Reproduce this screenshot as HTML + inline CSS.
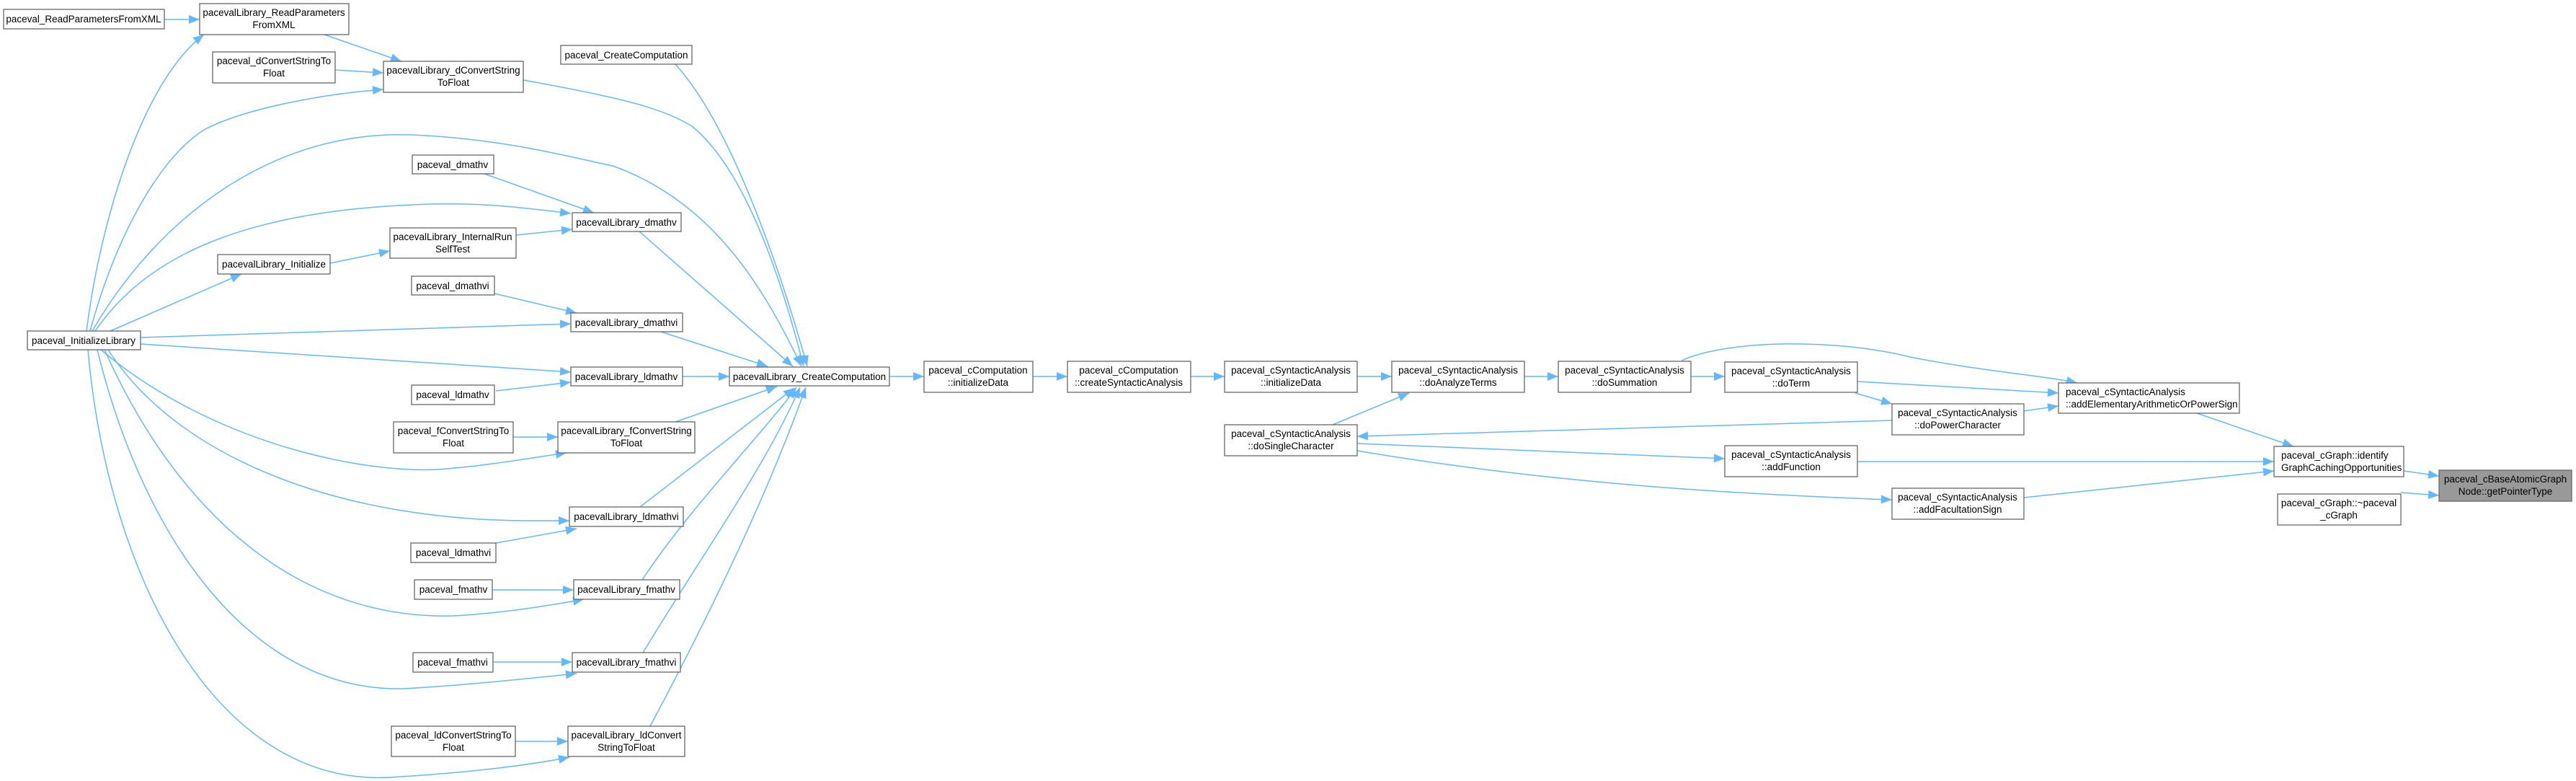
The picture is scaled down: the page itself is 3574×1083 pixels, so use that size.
<!DOCTYPE html>
<html><head><meta charset="utf-8"><style>
html,body{margin:0;padding:0;background:#fff;}
svg{display:block;}
text{font-family:"Liberation Sans",Arial,sans-serif;font-size:13.5px;fill:#000;}
.n{fill:#fff;stroke:#666;stroke-width:1.3;}
.g{fill:#999;stroke:#666;stroke-width:1.3;}
.e{fill:none;stroke:#63b8ff;stroke-width:1.5;}
</style></head><body>
<svg width="3574" height="1083" viewBox="0 0 3574 1083" xmlns="http://www.w3.org/2000/svg">
<defs><marker id="a" markerUnits="userSpaceOnUse" markerWidth="16" markerHeight="12" refX="15" refY="6" orient="auto"><path d="M0,0 L15,6 L0,12 z" fill="#63b8ff"/></marker></defs>
<g class="e" marker-end="url(#a)">
<path d="M228,27 L277,27"/>
<path d="M450,48 L557,85"/>
<path d="M465,97 L532,101"/>
<path d="M120,459 C140,300 200,110 283,48"/>
<path d="M125,459 C160,330 220,220 283,180 C340,150 450,130 532,124"/>
<path d="M128,459 C220,300 380,180 570,187 C700,192 800,220 850,230 C990,280 1060,400 1112,508"/>
<path d="M132,459 C200,360 330,290 600,283 C680,281 740,290 792,296"/>
<path d="M716,326 L794,318"/>
<path d="M458,365 L541,348"/>
<path d="M153,459 L335,380"/>
<path d="M672,241 L824,295"/>
<path d="M726,111 C860,135 920,150 960,175 C1040,240 1090,410 1115,508"/>
<path d="M937,89 C1020,180 1090,400 1120,508"/>
<path d="M887,321 L1100,508"/>
<path d="M686,407 L800,434"/>
<path d="M195,468 L792,449"/>
<path d="M917,460 L1065,508"/>
<path d="M195,477 L792,516"/>
<path d="M947,522 L1012,522"/>
<path d="M688,542 L792,530"/>
<path d="M712,606 L774,606"/>
<path d="M140,485 C300,620 520,660 620,650 C680,645 730,636 786,628"/>
<path d="M937,585 L1078,536"/>
<path d="M150,485 C250,640 480,722 735,722 L790,722"/>
<path d="M688,753 L800,733"/>
<path d="M888,703 L1102,538"/>
<path d="M683,818 L796,818"/>
<path d="M145,485 C250,720 420,860 630,854 C700,850 760,840 810,831"/>
<path d="M891,804 C960,700 1060,600 1105,537"/>
<path d="M684,918 L794,918"/>
<path d="M135,485 C200,750 350,960 560,955 C650,950 740,940 800,934"/>
<path d="M892,905 C980,760 1060,650 1110,537"/>
<path d="M715,1028 L788,1028"/>
<path d="M122,485 C150,800 300,1090 540,1078 C650,1072 740,1060 790,1050"/>
<path d="M902,1007 C970,880 1060,700 1118,537"/>
<path d="M1234,522 L1282,522"/>
<path d="M1433,522 L1481,522"/>
<path d="M1652,522 L1699,522"/>
<path d="M1883,522 L1931,522"/>
<path d="M1849,589 L1955,545"/>
<path d="M2115,522 L2162,522"/>
<path d="M2346,522 L2393,522"/>
<path d="M2333,500 C2400,470 2550,470 2650,495 C2750,515 2830,520 2882,531"/>
<path d="M2577,529 L2856,545"/>
<path d="M2574,545 L2625,560"/>
<path d="M2808,570 L2856,563"/>
<path d="M2625,583 L1883,605"/>
<path d="M1883,615 L2393,636"/>
<path d="M1883,625 C2150,670 2400,685 2625,693"/>
<path d="M2577,640 L3155,640"/>
<path d="M2808,690 L3155,653"/>
<path d="M3048,573 L3182,619"/>
<path d="M3335,653 L3384,660"/>
<path d="M3331,683 L3384,687"/>
</g>
<g>
<rect class="n" x="5" y="13" width="223" height="27"/><text x="116" y="31" text-anchor="middle">paceval_ReadParametersFromXML</text>
<rect class="n" x="277" y="5" width="207" height="43"/><text x="380" y="22" text-anchor="middle">pacevalLibrary_ReadParameters</text><text x="380" y="39" text-anchor="middle">FromXML</text>
<rect class="n" x="295" y="72" width="170" height="43"/><text x="380" y="89" text-anchor="middle">paceval_dConvertStringTo</text><text x="380" y="106" text-anchor="middle">Float</text>
<rect class="n" x="532" y="85" width="194" height="43"/><text x="629" y="102" text-anchor="middle">pacevalLibrary_dConvertString</text><text x="629" y="119" text-anchor="middle">ToFloat</text>
<rect class="n" x="778" y="63" width="182" height="26"/><text x="869" y="81" text-anchor="middle">paceval_CreateComputation</text>
<rect class="n" x="572" y="215" width="113" height="26"/><text x="628" y="233" text-anchor="middle">paceval_dmathv</text>
<rect class="n" x="794" y="295" width="151" height="26"/><text x="869" y="313" text-anchor="middle">pacevalLibrary_dmathv</text>
<rect class="n" x="541" y="316" width="175" height="42"/><text x="628" y="333" text-anchor="middle">pacevalLibrary_InternalRun</text><text x="628" y="350" text-anchor="middle">SelfTest</text>
<rect class="n" x="302" y="353" width="156" height="27"/><text x="380" y="371" text-anchor="middle">pacevalLibrary_Initialize</text>
<rect class="n" x="571" y="383" width="115" height="26"/><text x="628" y="401" text-anchor="middle">paceval_dmathvi</text>
<rect class="n" x="792" y="434" width="155" height="26"/><text x="869" y="452" text-anchor="middle">pacevalLibrary_dmathvi</text>
<rect class="n" x="38" y="459" width="157" height="26"/><text x="116" y="477" text-anchor="middle">paceval_InitializeLibrary</text>
<rect class="n" x="792" y="509" width="155" height="26"/><text x="869" y="527" text-anchor="middle">pacevalLibrary_ldmathv</text>
<rect class="n" x="1012" y="509" width="222" height="26"/><text x="1123" y="527" text-anchor="middle">pacevalLibrary_CreateComputation</text>
<rect class="n" x="571" y="534" width="115" height="27"/><text x="628" y="552" text-anchor="middle">paceval_ldmathv</text>
<rect class="n" x="546" y="585" width="166" height="43"/><text x="629" y="602" text-anchor="middle">paceval_fConvertStringTo</text><text x="629" y="619" text-anchor="middle">Float</text>
<rect class="n" x="774" y="585" width="190" height="43"/><text x="869" y="602" text-anchor="middle">pacevalLibrary_fConvertString</text><text x="869" y="619" text-anchor="middle">ToFloat</text>
<rect class="n" x="790" y="703" width="158" height="27"/><text x="869" y="721" text-anchor="middle">pacevalLibrary_ldmathvi</text>
<rect class="n" x="570" y="753" width="118" height="27"/><text x="629" y="771" text-anchor="middle">paceval_ldmathvi</text>
<rect class="n" x="575" y="804" width="108" height="27"/><text x="629" y="822" text-anchor="middle">paceval_fmathv</text>
<rect class="n" x="796" y="804" width="147" height="27"/><text x="869" y="822" text-anchor="middle">pacevalLibrary_fmathv</text>
<rect class="n" x="573" y="905" width="111" height="27"/><text x="628" y="923" text-anchor="middle">paceval_fmathvi</text>
<rect class="n" x="794" y="905" width="150" height="27"/><text x="869" y="923" text-anchor="middle">pacevalLibrary_fmathvi</text>
<rect class="n" x="543" y="1007" width="172" height="42"/><text x="629" y="1024" text-anchor="middle">paceval_ldConvertStringTo</text><text x="629" y="1041" text-anchor="middle">Float</text>
<rect class="n" x="788" y="1007" width="162" height="42"/><text x="869" y="1024" text-anchor="middle">pacevalLibrary_ldConvert</text><text x="869" y="1041" text-anchor="middle">StringToFloat</text>
<rect class="n" x="1282" y="501" width="151" height="43"/><text x="1357" y="518" text-anchor="middle">paceval_cComputation</text><text x="1357" y="535" text-anchor="middle">::initializeData</text>
<rect class="n" x="1481" y="501" width="171" height="43"/><text x="1566" y="518" text-anchor="middle">paceval_cComputation</text><text x="1566" y="535" text-anchor="middle">::createSyntacticAnalysis</text>
<rect class="n" x="1699" y="501" width="184" height="43"/><text x="1791" y="518" text-anchor="middle">paceval_cSyntacticAnalysis</text><text x="1791" y="535" text-anchor="middle">::initializeData</text>
<rect class="n" x="1931" y="501" width="184" height="43"/><text x="2023" y="518" text-anchor="middle">paceval_cSyntacticAnalysis</text><text x="2023" y="535" text-anchor="middle">::doAnalyzeTerms</text>
<rect class="n" x="2162" y="501" width="184" height="43"/><text x="2254" y="518" text-anchor="middle">paceval_cSyntacticAnalysis</text><text x="2254" y="535" text-anchor="middle">::doSummation</text>
<rect class="n" x="1699" y="589" width="184" height="43"/><text x="1791" y="606" text-anchor="middle">paceval_cSyntacticAnalysis</text><text x="1791" y="623" text-anchor="middle">::doSingleCharacter</text>
<rect class="n" x="2393" y="502" width="184" height="42"/><text x="2485" y="519" text-anchor="middle">paceval_cSyntacticAnalysis</text><text x="2485" y="536" text-anchor="middle">::doTerm</text>
<rect class="n" x="2856" y="531" width="251" height="42"/><text x="2866" y="548">paceval_cSyntacticAnalysis</text><text x="2866" y="565">::addElementaryArithmeticOrPowerSign</text>
<rect class="n" x="2625" y="560" width="183" height="43"/><text x="2716" y="577" text-anchor="middle">paceval_cSyntacticAnalysis</text><text x="2716" y="594" text-anchor="middle">::doPowerCharacter</text>
<rect class="n" x="2393" y="618" width="184" height="43"/><text x="2485" y="635" text-anchor="middle">paceval_cSyntacticAnalysis</text><text x="2485" y="652" text-anchor="middle">::addFunction</text>
<rect class="n" x="2625" y="677" width="183" height="43"/><text x="2716" y="694" text-anchor="middle">paceval_cSyntacticAnalysis</text><text x="2716" y="711" text-anchor="middle">::addFacultationSign</text>
<rect class="n" x="3155" y="619" width="180" height="42"/><text x="3165" y="636">paceval_cGraph::identify</text><text x="3165" y="653">GraphCachingOpportunities</text>
<rect class="g" x="3384" y="652" width="184" height="43"/><text x="3476" y="669" text-anchor="middle">paceval_cBaseAtomicGraph</text><text x="3476" y="686" text-anchor="middle">Node::getPointerType</text>
<rect class="n" x="3160" y="685" width="171" height="43"/><text x="3245" y="702" text-anchor="middle">paceval_cGraph::~paceval</text><text x="3245" y="719" text-anchor="middle">_cGraph</text>
</g>
</svg>
</body></html>
